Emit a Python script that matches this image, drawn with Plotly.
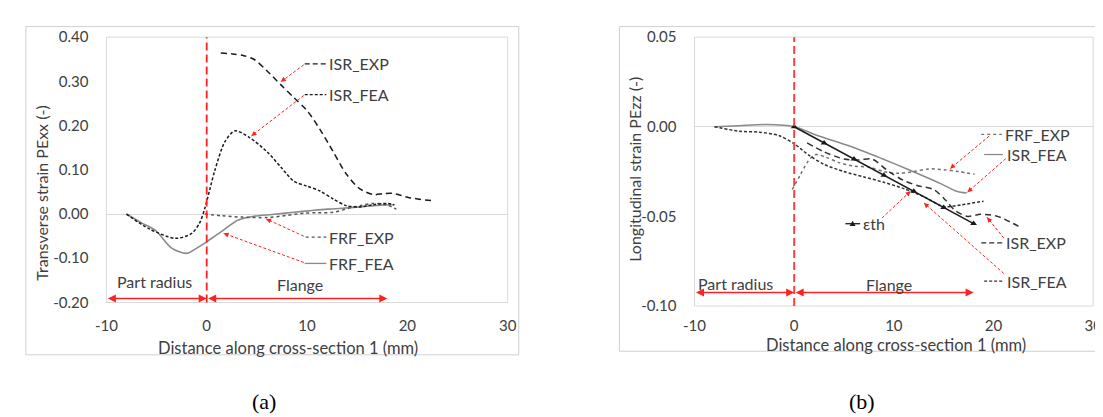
import plotly.graph_objects as go

# ---------------- data: chart (a) transverse strain ----------------
a_isr_exp_x = [1.4, 2.6, 3.7, 4.7, 6.0, 7.4, 8.7, 10.0, 11.3, 12.6, 13.9, 15.2, 16.6, 17.6, 18.5, 20.2, 22.5]
a_isr_exp_y = [0.364, 0.362, 0.358, 0.350, 0.324, 0.292, 0.263, 0.234, 0.191, 0.141, 0.091, 0.058, 0.044, 0.046, 0.047, 0.037, 0.030]

a_isr_fea_x = [-8.0, -5.7, -3.1, -1.5, -0.7, -0.2, 0.3, 0.8, 1.8, 2.8, 4.2, 6.0, 7.4, 8.7, 10.0, 11.3, 12.6, 13.9, 15.2, 16.6, 17.9, 18.7]
a_isr_fea_y = [0.0, -0.034, -0.055, -0.044, -0.020, 0.012, 0.055, 0.098, 0.163, 0.188, 0.174, 0.141, 0.106, 0.074, 0.063, 0.052, 0.034, 0.019, 0.016, 0.021, 0.024, 0.021]

a_frf_exp_x = [-0.2, 1.5, 3.5, 6.0, 8.0, 9.7, 11.0, 12.6, 14.3, 15.5, 16.6, 17.9, 18.9]
a_frf_exp_y = [0.0, -0.004, -0.007, -0.008, -0.003, 0.002, 0.003, 0.004, 0.014, 0.020, 0.024, 0.021, 0.011]

a_frf_fea_x = [-8.0, -6.5, -5.1, -3.5, -2.0, -1.2, -0.2, 0.8, 1.8, 3.1, 4.7, 6.5, 8.7, 10.5, 12.0, 13.5, 15.2, 17.2, 18.7]
a_frf_fea_y = [0.0, -0.020, -0.037, -0.077, -0.089, -0.080, -0.066, -0.050, -0.034, -0.014, -0.005, -0.001, 0.004, 0.008, 0.011, 0.013, 0.016, 0.020, 0.021]

# ---------------- data: chart (b) longitudinal strain ----------------
b_eth_x = [0, 3, 6, 9, 12, 15, 18]
b_eth_y = [0.0, -0.009, -0.018, -0.027, -0.036, -0.045, -0.054]

b_isr_fea_solid_x = [-8.0, -5.5, -2.8, 0.0, 2.4, 5.7, 8.9, 11.5, 14.8, 16.3, 17.3]
b_isr_fea_solid_y = [0.0, 0.0006, 0.0012, 0.0, -0.005, -0.011, -0.018, -0.024, -0.032, -0.036, -0.037]

b_isr_fea_dash_x = [-8.0, -5.5, -3.5, -1.5, 0.0, 1.5, 3.0, 5.0, 7.0, 9.0, 11.0, 13.0, 15.0, 16.8, 19.0]
b_isr_fea_dash_y = [0.0, -0.0025, -0.003, -0.005, -0.0095, -0.016, -0.021, -0.025, -0.028, -0.031, -0.0345, -0.039, -0.0445, -0.0435, -0.0415]

b_isr_exp_x = [1.3, 3.0, 5.0, 6.5, 7.8, 9.5, 11.0, 12.5, 14.0, 15.2, 16.2, 17.4, 18.7, 20.4, 22.5]
b_isr_exp_y = [-0.009, -0.014, -0.018, -0.0185, -0.018, -0.025, -0.030, -0.033, -0.035, -0.041, -0.047, -0.050, -0.0488, -0.050, -0.0555]

b_frf_exp_x = [-0.2, 0.6, 1.3, 2.1, 3.2, 4.5, 6.0, 7.5, 9.0, 10.5, 12.0, 13.5, 15.0, 16.5, 18.1]
b_frf_exp_y = [-0.035, -0.027, -0.020, -0.0155, -0.017, -0.020, -0.022, -0.0225, -0.025, -0.026, -0.025, -0.0235, -0.024, -0.025, -0.0265]

# ---------------- ticks ----------------
x_tickvals = [-10, 0, 10, 20, 30]
x_ticktext = ["-10", "0", "10", "20", "30"]
a_y_tickvals = [-0.2, -0.1, 0.0, 0.1, 0.2, 0.3, 0.4]
a_y_ticktext = ["-0.20", "-0.10", "0.00", "0.10", "0.20", "0.30", "0.40"]
b_y_tickvals = [-0.10, -0.05, 0.0, 0.05]
b_y_ticktext = ["-0.10", "-0.05", "0.00", "0.05"]

# ---------------- layout helpers ----------------
W, H = 1103, 417
FONT = "Lato"
TXT = "#404040"
RED = "#ff2020"
LBL = 16


def X(px):
    return px / W


def Y(py):
    return 1 - py / H


fig = go.Figure()

LONG = "6px,4px"
SHORT = "3px,2px"


def add(x, y, axis, color, dash, width=1.5, name=""):
    xa, ya = ("x", "y") if axis == 1 else ("x2", "y2")
    fig.add_trace(go.Scatter(x=x, y=y, xaxis=xa, yaxis=ya, mode="lines", name=name,
                             line=dict(color=color, dash=dash, width=width, shape="spline", smoothing=0.8),
                             showlegend=False, hoverinfo="skip"))


# chart (a)
add(a_frf_fea_x, a_frf_fea_y, 1, "#8a8a8a", "solid", 1.6, "FRF_FEA")
add(a_frf_exp_x, a_frf_exp_y, 1, "#555555", "dot", 1.5, "FRF_EXP")
add(a_isr_fea_x, a_isr_fea_y, 1, "#1a1a1a", SHORT, 1.5, "ISR_FEA")
add(a_isr_exp_x, a_isr_exp_y, 1, "#1a1a1a", LONG, 1.5, "ISR_EXP")

# chart (b)
add(b_isr_fea_solid_x, b_isr_fea_solid_y, 2, "#8a8a8a", "solid", 1.5, "ISR_FEA")
add(b_frf_exp_x, b_frf_exp_y, 2, "#707070", "dot", 1.5, "FRF_EXP")
add(b_isr_fea_dash_x, b_isr_fea_dash_y, 2, "#303030", SHORT, 1.5, "ISR_FEA")
add(b_isr_exp_x, b_isr_exp_y, 2, "#303030", LONG, 1.5, "ISR_EXP")
fig.add_trace(go.Scatter(x=b_eth_x, y=b_eth_y, xaxis="x2", yaxis="y2", mode="lines+markers",
                         line=dict(color="#1a1a1a", width=1.5),
                         marker=dict(symbol="triangle-up", size=6, color="#1a1a1a"),
                         showlegend=False, hoverinfo="skip", name="εth"))

shapes = []
annotations = []

# borders
shapes.append(dict(type="rect", xref="paper", yref="paper", x0=X(7), x1=X(509), y0=Y(352), y1=Y(9),
                   line=dict(color="#d0d0d0", width=1), layer="below"))
shapes.append(dict(type="rect", xref="paper", yref="paper", x0=X(611.5), x1=X(1110), y0=Y(348.3), y1=Y(9),
                   line=dict(color="#d0d0d0", width=1), layer="below"))
shapes.append(dict(type="rect", xref="paper", yref="paper", x0=X(89), x1=X(497.7), y0=Y(297.3), y1=Y(20),
                   line=dict(color="#d9d9d9", width=1), layer="below"))
shapes.append(dict(type="rect", xref="paper", yref="paper", x0=X(688), x1=X(1094), y0=Y(301), y1=Y(20),
                   line=dict(color="#d9d9d9", width=1), layer="below"))

# red vertical dashed lines at x = 0
shapes.append(dict(type="line", xref="x", yref="y domain", x0=0, x1=0, y0=0, y1=1,
                   line=dict(color=RED, width=1.8, dash="8px,4px")))
shapes.append(dict(type="line", xref="x2", yref="y2 domain", x0=0, x1=0, y0=0, y1=1,
                   line=dict(color="#ff4040", width=2, dash="8px,4px")))


def dbl_arrow(xr, yr, x0, x1, y):
    annotations.append(dict(x=x1, y=y, ax=x0, ay=y, xref=xr, yref=yr, axref=xr, ayref=yr, text="",
                            showarrow=True, arrowside="end+start", arrowhead=2, startarrowhead=2,
                            arrowsize=1, startarrowsize=1, arrowwidth=1.6, arrowcolor=RED))


dbl_arrow("x", "y", -10, 0, -0.191)
dbl_arrow("x", "y", 0, 18, -0.191)
dbl_arrow("x2", "y2", -10, 0, -0.0925)
dbl_arrow("x2", "y2", 0, 18, -0.0925)


def text(px, py, s, size=LBL, anchor="center", angle=0, family=FONT, color=TXT):
    annotations.append(dict(x=X(px), y=Y(py), xref="paper", yref="paper", text=s, showarrow=False,
                            xanchor=anchor, yanchor="middle", textangle=angle,
                            font=dict(family=family, size=size, color=color)))


text(138, 275, "Part radius")
text(286, 278, "Flange")
text(730, 277, "Part radius")
text(886, 278, "Flange")


def leader(sx, sy, tx, ty):
    shapes.append(dict(type="line", xref="paper", yref="paper", x0=X(sx), y0=Y(sy), x1=X(tx), y1=Y(ty),
                       line=dict(color=RED, width=1, dash="3px,2px")))
    dx, dy = sx - tx, sy - ty
    n = (dx * dx + dy * dy) ** 0.5
    annotations.append(dict(x=X(tx), y=Y(ty), xref="paper", yref="paper", text="", showarrow=True,
                            ax=dx / n * 6, ay=dy / n * 6, arrowhead=2, arrowsize=1, arrowwidth=1,
                            arrowcolor=RED))


def sample(x0, x1, py, color, dash, width=1.3):
    shapes.append(dict(type="line", xref="paper", yref="paper", x0=X(x0), x1=X(x1), y0=Y(py), y1=Y(py),
                       line=dict(color=color, width=width, dash=dash)))


# legend labels (a)
sample(291, 313, 48, "#1a1a1a", "5px,3px")
text(314, 48, "ISR_EXP", anchor="left")
leader(290, 49, 266.7, 66.7)
sample(291, 313, 80, "#1a1a1a", "3px,2px")
text(314, 80, "ISR_FEA", anchor="left")
leader(290, 81, 236.7, 123.3)
sample(292, 313, 229, "#555555", "dot")
text(314, 229, "FRF_EXP", anchor="left")
leader(290, 228, 251.7, 210)
sample(291, 313, 256.5, "#8a8a8a", "solid")
text(314, 256.5, "FRF_FEA", anchor="left")
leader(290, 255.5, 208.3, 225)

# legend labels (b)
sample(980, 1001, 121.7, "#707070", "dot")
text(1002, 121.7, "FRF_EXP", anchor="left")
leader(988, 123.5, 948.3, 157.5)
sample(983, 1002, 142.7, "#8a8a8a", "solid")
text(1004, 142.7, "ISR_FEA", anchor="left")
leader(1005, 147, 966, 182)
sample(841.7, 856.7, 215, "#1a1a1a", "solid")
shapes.append(dict(type="path", xref="paper", yref="paper",
                   path="M %f,%f L %f,%f L %f,%f Z" % (X(846), Y(217.5), X(852), Y(217.5), X(849), Y(212)),
                   fillcolor="#1a1a1a", line=dict(width=0)))
text(858, 215, "εth", anchor="left")
leader(879, 209, 908, 181)
sample(980, 1002, 235, "#303030", "5px,3px")
text(1003, 235, "ISR_EXP", anchor="left")
leader(1003, 230, 986, 208.3)
sample(983, 1003, 275, "#303030", "3px,2px")
text(1004, 275, "ISR_FEA", anchor="left")
leader(1003, 267, 921.7, 193.3)

# axis titles
text(23, 183, "Transverse strain PExx (-)", size=16, angle=-90)
text(627, 158, "Longitudinal strain PEzz (-)", size=16, angle=-90)
text(274, 345, "Distance along cross-section 1 (mm)", size=16.5)
text(893, 342, "Distance along cross-section 1 (mm)", size=16.5)

# sub-figure labels
text(250, 401, "(a)", size=22, family="Liberation Serif", color="#000000")
text(859, 401, "(b)", size=22, family="Liberation Serif", color="#000000")

axis_common = dict(showgrid=False, showline=False, ticks="outside", tickcolor="rgba(0,0,0,0)",
                   tickfont=dict(family=FONT, size=15, color=TXT), fixedrange=True)

fig.update_layout(
    width=W, height=H, autosize=False,
    margin=dict(l=0, r=0, t=0, b=0),
    paper_bgcolor="white", plot_bgcolor="white",
    showlegend=False,
    xaxis=dict(domain=[X(89), X(497.7)], range=[-10, 30], anchor="y", tickvals=x_tickvals, ticktext=x_ticktext,
               ticklen=10, zeroline=False, **axis_common),
    yaxis=dict(domain=[Y(297.3), Y(20)], range=[-0.2, 0.4], anchor="x", tickvals=a_y_tickvals,
               ticktext=a_y_ticktext, ticklen=14, zeroline=True, zerolinecolor="#d9d9d9", zerolinewidth=1,
               **axis_common),
    xaxis2=dict(domain=[X(688), X(1094)], range=[-10, 30], anchor="y2", tickvals=x_tickvals, ticktext=x_ticktext,
                ticklen=6, zeroline=False, **axis_common),
    yaxis2=dict(domain=[Y(301), Y(20)], range=[-0.10, 0.05], anchor="x2", tickvals=b_y_tickvals,
                ticktext=b_y_ticktext, ticklen=14, zeroline=True, zerolinecolor="#d9d9d9", zerolinewidth=1,
                **axis_common),
    shapes=shapes,
    annotations=annotations,
)

fig.write_html("out.html")
